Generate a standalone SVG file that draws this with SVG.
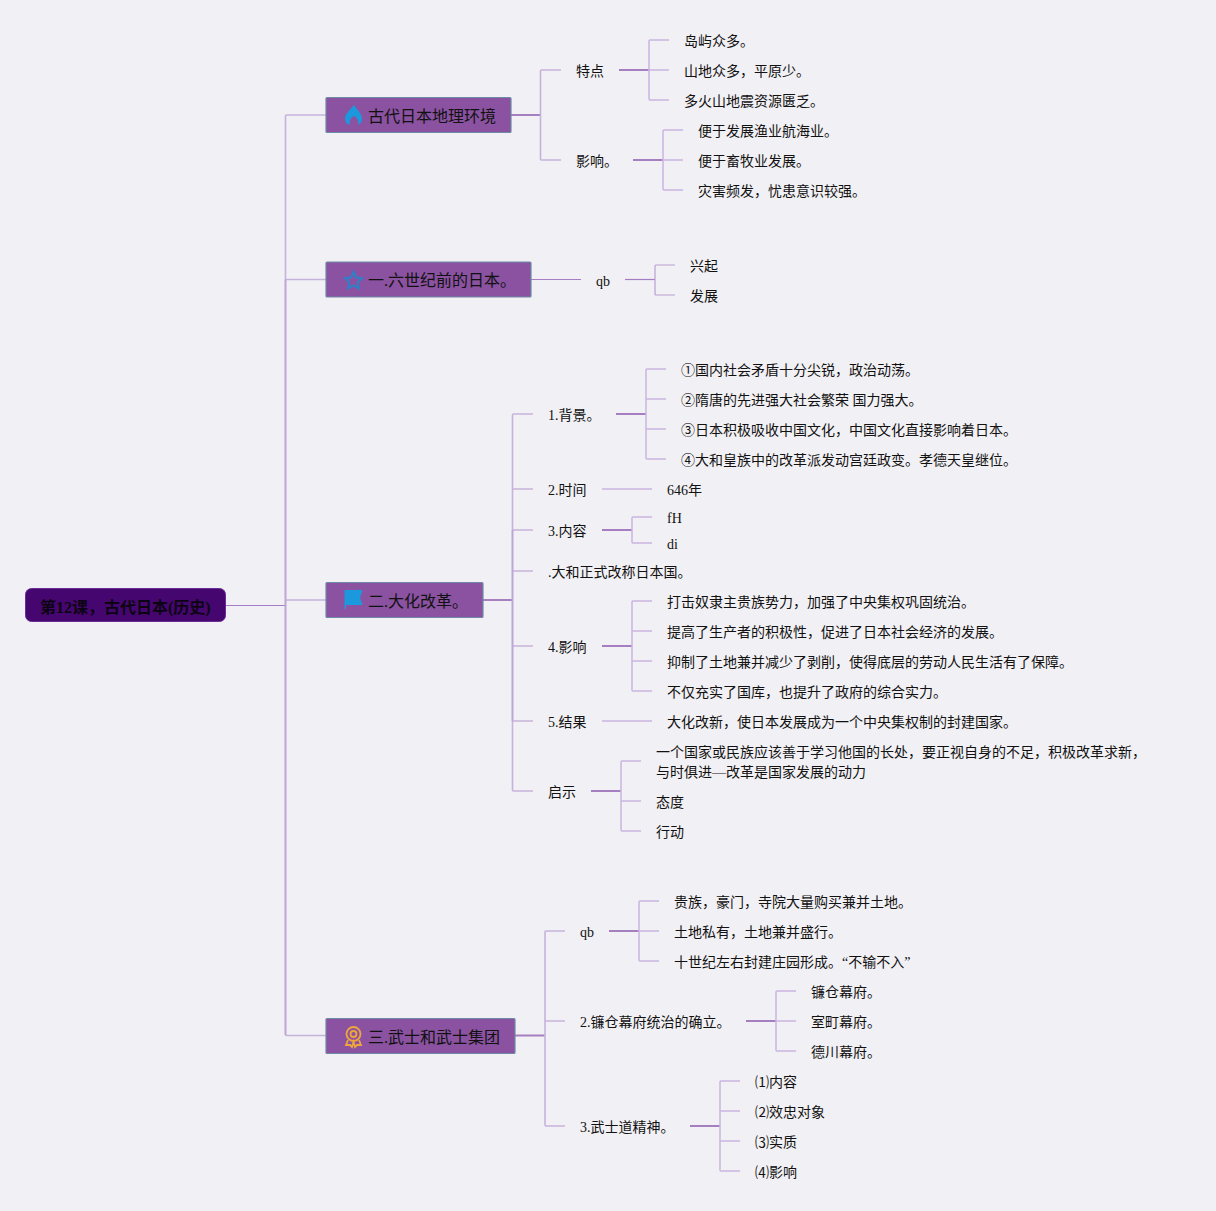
<svg xmlns="http://www.w3.org/2000/svg" width="1216" height="1211" viewBox="0 0 1216 1211">
<style>
text{font-family:"Liberation Serif","Noto Sans CJK SC",serif;font-size:14px;fill:#111}
.c1{fill:none;stroke:#c6b3dc;stroke-width:1.6}
.c2{fill:none;stroke:#a57fbf;stroke-width:2}
.c3{fill:none;stroke:#c9b5e0;stroke-width:1.5}
.c4{fill:none;stroke:#a67dc4;stroke-width:1.2}
.c5{fill:none;stroke:#bda5d5;stroke-width:1.7}
.m{fill:#8a52a0;stroke:#6d8ba5;stroke-width:1.2}
.t{font-size:16px;fill:#111}
.r{fill:#45076f;stroke:#6b2d93;stroke-width:1}
</style>
<rect width="1216" height="1211" fill="#f1f0f4"/>
<g id="connectors">
<path class="c4" d="M226 605.500H285.500M531 279.500H581"/>
<path class="c1" d="M326 115H286.500Q285.500 115 285.500 116V1034.500Q285.500 1035.500 286.500 1035.500H326M285.500 279.500H326M285.500 600H326"/>
<path class="c5" d="M285.500 279.500V1035"/>
<path class="c2" d="M511 115H540.500M483 600H512.500M515 1035.500H545M619 70H649M633 160H663M616 414H646M602 530H632M602 646H632M591 791H621M609 931H639M746 1021H776M690 1126H720"/>
<path class="c4" d="M625 279.500H655"/>
<path class="c1" d="M561 70H541.500Q540.500 70 540.500 71V159Q540.500 160 541.500 160H561"/>
<path class="c3" d="M669 40H650Q649 40 649 41V99Q649 100 650 100H669M649 70H669"/>
<path class="c3" d="M683 130H664Q663 130 663 131V189Q663 190 664 190H683M663 160H683"/>
<path class="c3" d="M675 265H656Q655 265 655 266V294Q655 295 656 295H675" style="stroke:#b9a0d2;stroke-width:1.2"/>
<path class="c1" d="M533 414H513.500Q512.500 414 512.500 415V790Q512.500 791 513.500 791H533M512.500 489H533M512.500 530H533M512.500 571H533M512.500 646H533M512.500 721H533"/>
<path class="c5" d="M512.500 530V721"/>
<path class="c3" d="M666 369H647Q646 369 646 370V458Q646 459 647 459H666M646 399H666M646 429H666"/>
<path class="c3" d="M602 489H652"/>
<path class="c3" d="M652 517H633Q632 517 632 518V542Q632 543 633 543H652"/>
<path class="c3" d="M652 601H633Q632 601 632 602V690Q632 691 633 691H652M632 631H652M632 661H652"/>
<path class="c3" d="M602 721H652"/>
<path class="c3" d="M641 761H622Q621 761 621 762V830Q621 831 622 831H641M621 801H641"/>
<path class="c1" d="M565 931H546Q545 931 545 932V1125Q545 1126 546 1126H565M545 1021H565"/>
<path class="c3" d="M659 901H640Q639 901 639 902V960Q639 961 640 961H659M639 931H659"/>
<path class="c3" d="M796 991H777Q776 991 776 992V1050Q776 1051 777 1051H796M776 1021H796"/>
<path class="c3" d="M740 1081H721Q720 1081 720 1082V1170Q720 1171 721 1171H740M720 1111H740M720 1141H740"/>
</g>
<g id="root"><rect class="r" x="25.500" y="588.500" width="200" height="33" rx="6"/><text x="40" y="612.500" style="font-size:16px;font-weight:bold;fill:#0c0412">第12课，古代日本(历史)</text></g>
<g id="n1"><rect class="m" x="326" y="97.500" width="185" height="35" rx="1"/>
<path d="M354 105C356 109 362 113 362 119C362 122 360 124 358 125C359 122 358 118 354 116C350 118 349 122 350 125C347 124 345 122 345 118C345 114 350 110 354 105Z" fill="#1c98dc"/>
<text class="t" x="368" y="121.500">古代日本地理环境</text></g>
<g id="n2"><rect class="m" x="326" y="262" width="205" height="35" rx="1"/>
<path d="M353.500 272L356 277.500L362 278.300L357.700 282.400L358.800 288.300L353.500 285.400L348.200 288.300L349.300 282.400L345 278.300L351 277.500Z" fill="none" stroke="#2a83c9" stroke-width="2"/>
<text class="t" x="368" y="286">一.六世纪前的日本。</text></g>
<g id="n3"><rect class="m" x="326" y="582.500" width="157" height="35" rx="1"/>
<path d="M344.500 590H362.500L360 597.500L362.500 605H346V609H344.500Z" fill="#1c98dc"/>
<text class="t" x="368" y="606.500">二.大化改革。</text></g>
<g id="n4"><rect class="m" x="326" y="1018.500" width="189" height="35" rx="1"/>
<g fill="none" stroke="#eea63a" stroke-width="1.8"><circle cx="353.500" cy="1034" r="7"/><circle cx="353.500" cy="1034" r="3"/><path d="M348 1040L346 1045L350 1045L352 1047L353.500 1042L355 1047L357 1045L361 1045L359 1040"/></g>
<text class="t" x="368" y="1042.500">三.武士和武士集团</text></g>
<g id="a1"><text x="576" y="76">特点</text></g>
<g id="a2"><text x="576" y="166">影响。</text></g>
<g id="a3"><text x="684" y="46">岛屿众多。</text></g>
<g id="a4"><text x="684" y="76">山地众多，平原少。</text></g>
<g id="a5"><text x="684" y="106">多火山地震资源匮乏。</text></g>
<g id="a6"><text x="698" y="136">便于发展渔业航海业。</text></g>
<g id="a7"><text x="698" y="166">便于畜牧业发展。</text></g>
<g id="a8"><text x="698" y="196">灾害频发，忧患意识较强。</text></g>
<g id="b1"><text x="596" y="286">qb</text></g>
<g id="b2"><text x="690" y="271">兴起</text></g>
<g id="b3"><text x="690" y="301">发展</text></g>
<g id="c1"><text x="548" y="420">1.背景。</text></g>
<g id="c2"><text x="681" y="375">①国内社会矛盾十分尖锐，政治动荡。</text></g>
<g id="c3"><text x="681" y="405">②隋唐的先进强大社会繁荣 国力强大。</text></g>
<g id="c4"><text x="681" y="435">③日本积极吸收中国文化，中国文化直接影响着日本。</text></g>
<g id="c5"><text x="681" y="465">④大和皇族中的改革派发动宫廷政变。孝德天皇继位。</text></g>
<g id="c6"><text x="548" y="495">2.时间</text></g>
<g id="c7"><text x="667" y="495">646年</text></g>
<g id="c8"><text x="548" y="536">3.内容</text></g>
<g id="c9"><text x="667" y="523">fH</text></g>
<g id="c10"><text x="667" y="549">di</text></g>
<g id="c11"><text x="548" y="577">.大和正式改称日本国。</text></g>
<g id="c12"><text x="548" y="652">4.影响</text></g>
<g id="c13"><text x="667" y="607">打击奴隶主贵族势力，加强了中央集权巩固统治。</text></g>
<g id="c14"><text x="667" y="637">提高了生产者的积极性，促进了日本社会经济的发展。</text></g>
<g id="c15"><text x="667" y="667">抑制了土地兼并减少了剥削，使得底层的劳动人民生活有了保障。</text></g>
<g id="c16"><text x="667" y="697">不仅充实了国库，也提升了政府的综合实力。</text></g>
<g id="c17"><text x="548" y="727">5.结果</text></g>
<g id="c18"><text x="667" y="727">大化改新，使日本发展成为一个中央集权制的封建国家。</text></g>
<g id="c19"><text x="548" y="797">启示</text></g>
<g id="c20"><text x="656" y="757">一个国家或民族应该善于学习他国的长处，要正视自身的不足，积极改革求新，</text><text x="656" y="777">与时俱进—改革是国家发展的动力</text></g>
<g id="c21"><text x="656" y="807">态度</text></g>
<g id="c22"><text x="656" y="837">行动</text></g>
<g id="d1"><text x="580" y="937">qb</text></g>
<g id="d2"><text x="674" y="907">贵族，豪门，寺院大量购买兼并土地。</text></g>
<g id="d3"><text x="674" y="937">土地私有，土地兼并盛行。</text></g>
<g id="d4"><text x="674" y="967">十世纪左右封建庄园形成。“不输不入”</text></g>
<g id="d5"><text x="580" y="1027">2.镰仓幕府统治的确立。</text></g>
<g id="d6"><text x="811" y="997">镰仓幕府。</text></g>
<g id="d7"><text x="811" y="1027">室町幕府。</text></g>
<g id="d8"><text x="811" y="1057">德川幕府。</text></g>
<g id="d9"><text x="580" y="1132">3.武士道精神。</text></g>
<g id="d10"><text x="755" y="1087">⑴内容</text></g>
<g id="d11"><text x="755" y="1117">⑵效忠对象</text></g>
<g id="d12"><text x="755" y="1147">⑶实质</text></g>
<g id="d13"><text x="755" y="1177">⑷影响</text></g>
</svg>
